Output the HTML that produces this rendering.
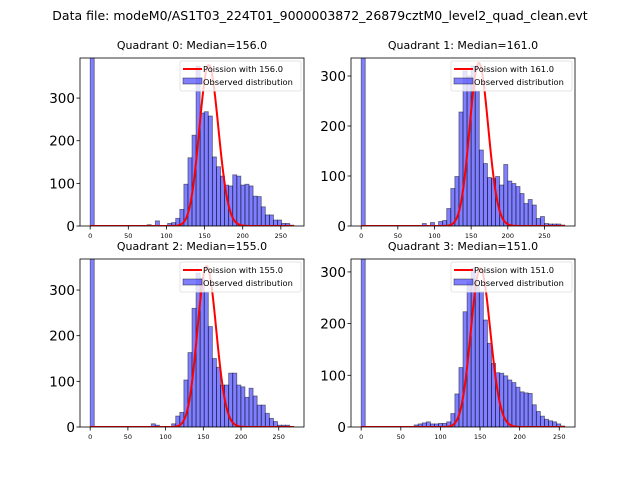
<!DOCTYPE html>
<html><head><meta charset="utf-8"><style>
body{margin:0;background:#fff;}
svg{font-family:"DejaVu Sans","Liberation Sans",sans-serif;}
</style></head><body>
<svg id="chart" width="640" height="480" viewBox="0 0 640 480" xmlns="http://www.w3.org/2000/svg">
<rect width="640" height="480" fill="#fff"/>
<text x="320" y="20" font-size="12.5" text-anchor="middle">Data file: modeM0/AS1T03_224T01_9000003872_26879cztM0_level2_quad_clean.evt</text>
</svg>
<script>
const medians=[156.0,161.0,155.0,151.0];
const dataMax=[267,277.8,270,257];
const yMax=[394,336,368,325];
const poissonPeak=[377,326,352,307];
const counts0=[3000,0,0,0,0,0,0,0,0,0,0,0,0,0,3,0,12,0,0,6,8,18,39,98,160,213,375,265,268,258,162,139,117,96,94,120,117,96,98,94,70,69,45,26,26,14,14,6,6,2];
const counts1=[3000,0,0,0,0,0,0,0,0,0,0,0,0,0,0,5,0,7,0,9,11,35,75,99,228,310,300,320,270,152,125,97,95,99,82,123,90,85,79,65,45,53,42,15,19,5,4,4,4,2];
const counts2=[3000,0,0,0,0,0,0,0,0,0,0,0,0,0,0,7,4,0,0,0,7,24,32,103,163,260,337,326,296,220,150,131,92,92,118,118,92,88,65,85,68,48,48,30,19,12,4,4,4,1];
const counts3=[3000,0,0,0,0,0,0,0,0,0,0,0,0,4,6,8,10,6,6,7,7,10,26,64,115,223,281,307,272,262,207,162,123,105,104,99,91,86,77,68,66,65,43,30,21,15,12,10,6,2];
const allCounts=[counts0,counts1,counts2,counts3];
const xTicks=[0,50,100,150,200,250];
const yTicks=[0,100,200,300];

const boxes=[{l:80,r:304,t:58,b:226},{l:351,r:575,t:58,b:226},{l:80,r:304,t:259,b:427},{l:351,r:575,t:259,b:427}];
const svg=document.getElementById('chart');
const NS='http://www.w3.org/2000/svg';
function mk(tag,attrs,parent){const e=document.createElementNS(NS,tag);for(const k in attrs)e.setAttribute(k,attrs[k]);(parent||svg).appendChild(e);return e;}
function lgamma(n){let s=0;for(let i=2;i<=n;i++)s+=Math.log(i);return s;}
function pmf(k,m){return Math.exp(k*Math.log(m)-m-lgamma(k));}

boxes.forEach((B,q)=>{
  const g=mk('g',{});
  
  
  const cnt=allCounts[q];
  const R=dataMax[q], xmin=-0.05*R, xmax=1.05*R;
  const X=v=>B.l+(v-xmin)/(xmax-xmin)*(B.r-B.l);
  const Y=v=>B.b-v/yMax[q]*(B.b-B.t);
  const cid='clip'+q;
  const cp=mk('clipPath',{id:cid},g);mk('rect',{x:B.l,y:B.t,width:B.r-B.l,height:B.b-B.t},cp);
  const plot=mk('g',{'clip-path':'url(#'+cid+')'},g);
  const bw=R/cnt.length;
  cnt.forEach((c,i)=>{
    if(c<=0)return;
    const x0=X(i*bw),x1=X((i+1)*bw),y=Y(c);
    const r=mk('rect',{x:x0,y:y,width:x1-x0,height:B.b-y,fill:'rgba(0,0,255,0.5)',stroke:'rgba(0,0,0,0.5)','stroke-width':0.8},plot);
    
    
  });
  const m=medians[q];const mode=Math.floor(m);const sc=poissonPeak[q]/pmf(mode,m);
  let d='';for(let k=0;k<=Math.round(R);k++){d+=(k?'L':'M')+X(k).toFixed(2)+','+Y(pmf(k,m)*sc).toFixed(2);}
  const pl=mk('path',{d:d,fill:'none',stroke:'#f00','stroke-width':2},plot);
  
  
  mk('rect',{x:B.l,y:B.t,width:B.r-B.l,height:B.b-B.t,fill:'none',stroke:'#000','stroke-width':0.8},g);
  xTicks.forEach(t=>{const x=X(t);mk('line',{x1:x,x2:x,y1:B.b,y2:B.b+3.5,stroke:'#000','stroke-width':0.8},g);
    const tx=mk('text',{x:x,y:B.b+12,'font-size':6.5,'text-anchor':'middle'},g);tx.textContent=t;
    });
  yTicks.forEach(t=>{if(t>yMax[q])return;const y=Y(t);mk('line',{x1:B.l-3.5,x2:B.l,y1:y,y2:y,stroke:'#000','stroke-width':0.8},g);
    const tx=mk('text',{x:B.l-5,y:y+5,'font-size':13.5,'text-anchor':'end'},g);tx.textContent=t;
    });
  const ti=mk('text',{x:(B.l+B.r)/2,y:B.t-9,'font-size':11,'text-anchor':'middle'},g);
  ti.textContent='Quadrant '+q+': Median='+medians[q].toFixed(1);
  
  const lg=mk('g',{},g);
  
  const lx=B.r-124,ly=B.t+3;
  mk('rect',{x:lx,y:ly,width:121,height:30,rx:2,fill:'rgba(255,255,255,0.8)',stroke:'#ddd','stroke-width':0.8},lg);
  mk('line',{x1:lx+3,x2:lx+22,y1:ly+8,y2:ly+8,stroke:'#f00','stroke-width':2},lg);
  const t1=mk('text',{x:lx+23,y:ly+11,'font-size':8.3},lg);t1.textContent='Poission with '+medians[q].toFixed(1);
  mk('rect',{x:lx+3,y:ly+17,width:19,height:6,fill:'rgba(0,0,255,0.5)',stroke:'rgba(0,0,0,0.5)','stroke-width':0.8},lg);
  const t2=mk('text',{x:lx+23,y:ly+24,'font-size':8.3},lg);t2.textContent='Observed distribution';
});
</script>
</body></html>
